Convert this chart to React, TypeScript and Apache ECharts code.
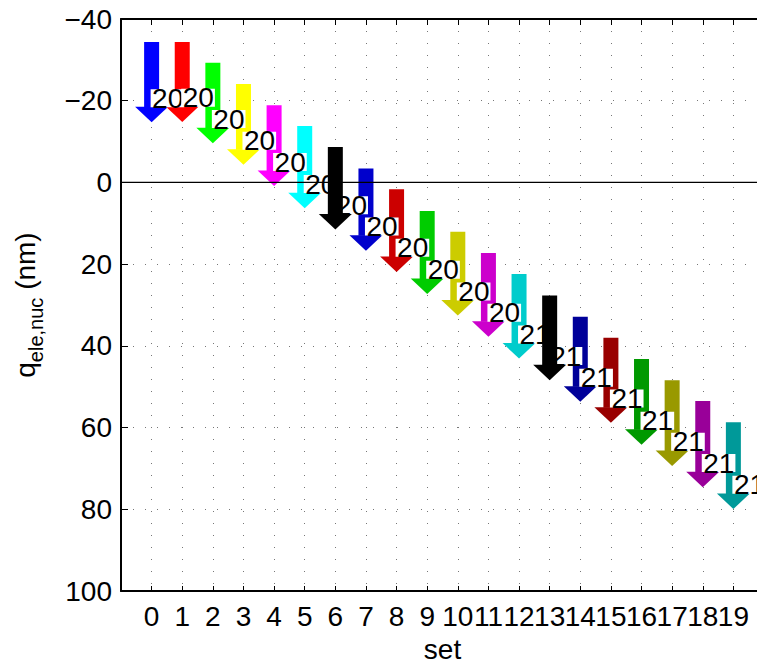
import React, { useEffect, useRef } from "react";
import * as echarts from "echarts";

// ---- data ----
const sets = [0, 1, 2, 3, 4, 5, 6, 7, 8, 9, 10, 11, 12, 13, 14, 15, 16, 17, 18, 19];
const startValues = [-34.4, -34.4, -29.3, -24.1, -18.9, -13.8, -8.7, -3.4, 1.7, 7.0, 12.1, 17.3, 22.4, 27.7, 32.9, 38.0, 43.2, 48.4, 53.5, 58.7];
const endValues = [-14.7, -14.8, -9.6, -4.3, 0.9, 6.3, 11.5, 16.7, 21.9, 27.3, 32.6, 37.8, 43.1, 48.4, 53.7, 58.8, 64.2, 69.4, 74.6, 79.9];
const lengthLabels = ["20", "20", "20", "20", "20", "20", "20", "20", "20", "20", "20", "20", "21", "21", "21", "21", "21", "21", "21", "21"];
const arrowColors = [
  "#0000ff", "#ff0000", "#00ff00", "#ffff00", "#ff00ff", "#00ffff", "#000000",
  "#0000cc", "#cc0000", "#00cc00", "#cccc00", "#cc00cc", "#00cccc", "#000000",
  "#000099", "#990000", "#009900", "#999900", "#990099", "#009999",
];
const X_MIN = -1;
const X_MAX = 20;
const Y_MIN = -40;
const Y_MAX = 100;
const Y_STEP = 20;
const LABEL_DY = 5.9;

const FONT = '"Liberation Sans", Arial, Helvetica, sans-serif';
const FS = 28;

export default function App() {
  const ref = useRef<HTMLDivElement>(null);

  useEffect(() => {
    if (!ref.current) return;
    const chart = echarts.init(ref.current, undefined, { renderer: "svg" });

    const gridLine = { show: true, lineStyle: { type: [1, 11], color: "#777", width: 1 } };

    const option: any = {
      animation: false,
      backgroundColor: "#fff",
      grid: { left: 121, top: 19, right: -7, bottom: 70, containLabel: false, outerBoundsMode: "none" },
      xAxis: [
        {
          type: "value",
          min: X_MIN,
          max: X_MAX,
          interval: 1,
          position: "bottom",
          axisLine: { show: true, onZero: false, lineStyle: { color: "#000", width: 2 } },
          axisTick: { show: true, inside: true, length: 5, lineStyle: { color: "#000", width: 1 } },
          axisLabel: {
            formatter: (v: number) => (v >= sets[0] && v <= sets[sets.length - 1] ? String(v) : ""),
            fontSize: FS,
            fontFamily: FONT,
            color: "#000",
            margin: 11,
          },
          splitLine: gridLine,
          name: "set",
          nameLocation: "middle",
          nameGap: 48,
          nameTextStyle: { fontSize: FS, lineHeight: 20, fontFamily: FONT, color: "#000" },
        },
        {
          type: "value",
          min: X_MIN,
          max: X_MAX,
          interval: 1,
          position: "top",
          axisLine: { show: true, onZero: false, lineStyle: { color: "#000", width: 2 } },
          axisTick: { show: true, inside: true, length: 6, lineStyle: { color: "#000", width: 1 } },
          axisLabel: { show: false },
          splitLine: { show: false },
        },
      ],
      yAxis: {
        type: "value",
        inverse: true,
        min: Y_MIN,
        max: Y_MAX,
        interval: Y_STEP,
        axisLine: { show: true, onZero: false, lineStyle: { color: "#000", width: 2 } },
        axisTick: { show: true, inside: true, length: 7, lineStyle: { color: "#000", width: 1 } },
        axisLabel: {
          formatter: (v: number) => (v < 0 ? "\u2212" + Math.abs(v) : String(v)),
          fontSize: FS,
          fontFamily: FONT,
          color: "#000",
          margin: 9,
        },
        splitLine: gridLine,
        name: "{a|q}{b|ele,nuc}{a| (nm)}",
        nameLocation: "middle",
        nameRotate: 90,
        nameGap: 80,
        nameTextStyle: {
          color: "#000",
          fontFamily: FONT,
          rich: {
            a: { fontSize: FS, lineHeight: 30, fontFamily: FONT, color: "#000", verticalAlign: "top" },
            b: { fontSize: 20, lineHeight: 20, fontFamily: FONT, color: "#000", verticalAlign: "top", padding: [15, 0, 0, 0] },
          },
        },
      },
      series: [
        {
          type: "custom",
          xAxisIndex: 0,
          yAxisIndex: 0,
          z: 2,
          encode: { x: 0, y: [1, 2] },
          data: sets.map((s, i) => [s, startValues[i], endValues[i]]),
          renderItem: (params: any, api: any) => {
            const i = params.dataIndex;
            const x = api.value(0);
            const s = api.value(1);
            const e = api.value(2);
            const top = api.coord([x, s]);
            const tip = api.coord([x, e]);
            const lab = api.coord([x, e - LABEL_DY]);
            const cx = top[0];
            const headLen = 15.5;
            const shaftW = 15;
            const headW = 33;
            const headTop = tip[1] - headLen;
            const color = arrowColors[i];
            // black arrows sit above the labels, coloured ones below
            const arrowZ = color === "#000000" ? 200 + i : i;
            return {
              type: "group",
              children: [
                {
                  type: "rect",
                  z2: arrowZ,
                  shape: { x: cx - shaftW / 2, y: top[1], width: shaftW, height: headTop - top[1] + 0.5 },
                  style: { fill: color },
                },
                {
                  type: "polygon",
                  z2: arrowZ,
                  shape: { points: [[cx - headW / 2, headTop], [cx + headW / 2, headTop], [cx, tip[1]]] },
                  style: { fill: color },
                },
                {
                  type: "text",
                  z2: 100 + i,
                  x: cx - 1,
                  y: lab[1],
                  style: {
                    text: lengthLabels[i],
                    fontSize: FS,
                    fontFamily: FONT,
                    fill: "#000",
                    align: "left",
                    verticalAlign: "middle",
                    lineHeight: 18,
                    backgroundColor: "#fff",
                    padding: [0, 1, 0, 1.5],
                  },
                },
              ],
            };
          },
        },
        {
          type: "line",
          xAxisIndex: 0,
          yAxisIndex: 0,
          z: 5,
          silent: true,
          symbol: "none",
          data: [[X_MIN, 0], [X_MAX, 0]],
          lineStyle: { color: "#000", width: 1.3 },
        },
      ],
    };

    chart.setOption(option);
    return () => chart.dispose();
  }, []);

  return (
    <div
      ref={ref}
      style={{ position: "fixed", left: 0, top: 0, width: 757, height: 661, background: "#fff" }}
    />
  );
}
